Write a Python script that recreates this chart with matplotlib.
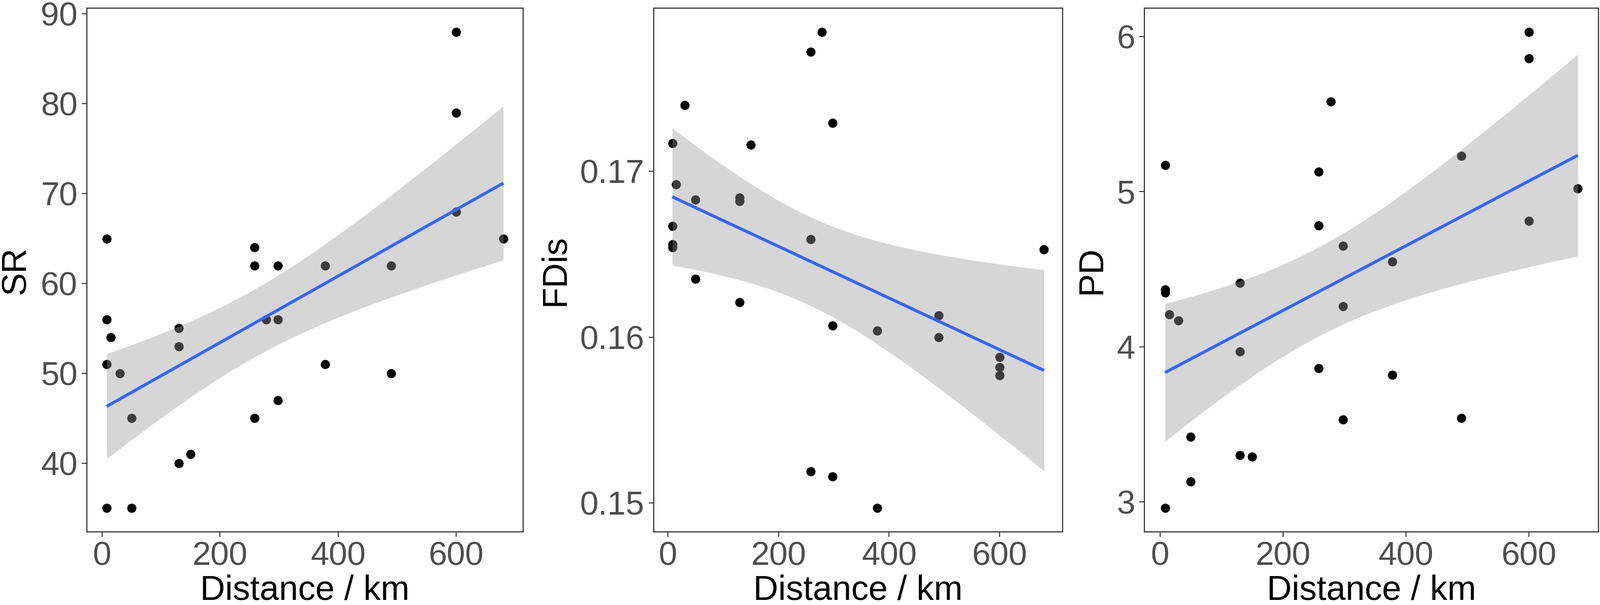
import numpy as np
import matplotlib
matplotlib.use("Agg")
import matplotlib.pyplot as plt

# ---- data ----
distance = [8, 8, 8, 8, 15, 30, 50, 50, 130, 130, 130, 150, 258, 258, 258,
            278, 298, 298, 298, 378, 378, 490, 490, 600, 600, 600, 680]
sr = [65, 56, 51, 35, 54, 50, 45, 35, 55, 53, 40, 41, 64, 62, 45,
      56, 62, 56, 47, 62, 51, 62, 50, 88, 79, 68, 65]
fdis = [0.1717, 0.1667, 0.1656, 0.1654, 0.1692, 0.1740, 0.1683, 0.1635,
        0.1684, 0.1682, 0.1621, 0.1716, 0.1772, 0.1659, 0.1519, 0.1784,
        0.1729, 0.1607, 0.1516, 0.1604, 0.1497, 0.1613, 0.1600, 0.1588,
        0.1582, 0.1577, 0.1653]
pd_vals = [5.17, 4.37, 4.35, 2.96, 4.21, 4.17, 3.42, 3.13, 4.41, 3.97, 3.30,
           3.29, 5.13, 4.78, 3.86, 5.58, 4.65, 4.26, 3.53, 4.55, 3.82, 5.23,
           3.54, 6.03, 5.86, 4.81, 5.02]

y_labels = ["SR", "FDis", "PD"]
x_label = "Distance / km"
x_ticks = [0, 200, 400, 600]
y_ticks = [[40, 50, 60, 70, 80, 90], [0.15, 0.16, 0.17], [3, 4, 5, 6]]
y_ticklabels = [["40", "50", "60", "70", "80", "90"], ["0.15", "0.16", "0.17"],
                ["3", "4", "5", "6"]]
series = [sr, fdis, pd_vals]

T975 = 2.0595  # t quantile, df = 25

W, H = 3150, 1191
rects_px = [(171, 1030), (1287, 2092), (2253, 3147)]
top_px, bot_px = 16, 1047

plt.rcParams['font.family'] = ['Liberation Sans', 'DejaVu Sans']
fig = plt.figure(figsize=(W / 100, H / 100), dpi=100)

tick_fs = 47
title_fs = 49

for i, (yv, (l, r)) in enumerate(zip(series, rects_px)):
    ax = fig.add_axes([l / W, (H - bot_px) / H, (r - l) / W, (bot_px - top_px) / H])
    x = np.asarray(distance, float)
    y = np.asarray(yv, float)
    n = len(x)
    b, a = np.polyfit(x, y, 1)
    resid = y - (a + b * x)
    mse = np.sum(resid ** 2) / (n - 2)
    sxx = np.sum((x - x.mean()) ** 2)
    xs = np.linspace(x.min(), x.max(), 80)
    fit = a + b * xs
    se = np.sqrt(mse * (1.0 / n + (xs - x.mean()) ** 2 / sxx))
    lo, hi = fit - T975 * se, fit + T975 * se

    ax.scatter(x, y, s=170, color='black', linewidths=0, zorder=2)
    ax.fill_between(xs, lo, hi, color='#999999', alpha=0.4, linewidth=0, zorder=3)
    ax.plot(xs, fit, color='#3366FF', lw=4.3, zorder=4, solid_capstyle='butt')

    xr = x.max() - x.min()
    ax.set_xlim(x.min() - 0.05 * xr, x.max() + 0.05 * xr)
    ymin = min(y.min(), lo.min())
    ymax = max(y.max(), hi.max())
    yr = ymax - ymin
    ax.set_ylim(ymin - 0.05 * yr, ymax + 0.05 * yr)

    ax.set_xticks(x_ticks)
    ax.set_xticklabels([str(t) for t in x_ticks])
    ax.set_yticks(y_ticks[i])
    ax.set_yticklabels(y_ticklabels[i])
    ax.tick_params(axis='both', length=7.2, width=1.4, color='#333333',
                   labelcolor='#4D4D4D', labelsize=tick_fs, pad=6)
    for sp in ax.spines.values():
        sp.set_color('#333333')
        sp.set_linewidth(1.6)
    ax.set_xlabel(x_label, fontsize=title_fs, color='black', labelpad=4)
    ax.set_ylabel(y_labels[i], fontsize=title_fs, color='black', labelpad=12)

fig.savefig("out.png", dpi=100, facecolor='white')
